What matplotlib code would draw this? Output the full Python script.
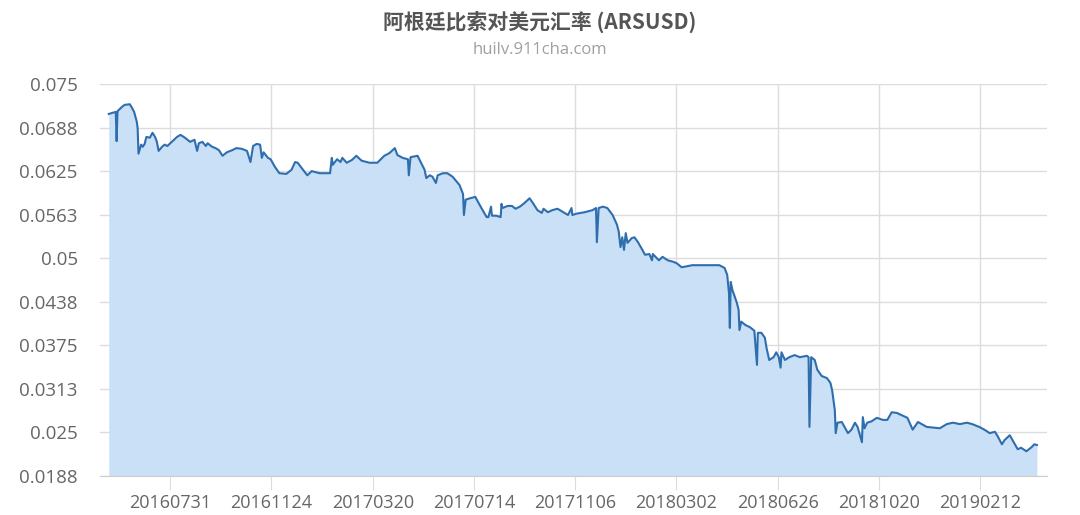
import datetime as dt

import matplotlib
matplotlib.use("Agg")
import matplotlib.pyplot as plt
import numpy as np

# ARS/USD daily rate (days counted from start_date)
start_date = dt.date(2016, 5, 22)
day = [0, 8, 9, 10, 15, 18, 24, 26, 29, 32, 33, 34, 37, 39, 41, 43, 47, 50, 53, 55,
       57, 61, 64, 67, 72, 78, 82, 87, 93, 98, 101, 103, 107, 111, 113, 118, 122, 126, 130, 135,
       141, 146, 152, 158, 162, 165, 169, 173, 175, 177, 182, 185, 190, 195, 203, 209, 213, 216, 222, 227,
       232, 241, 249, 253, 255, 256, 261, 265, 267, 272, 278, 283, 289, 298, 307, 315, 321, 327, 330, 336,
       342, 343, 345, 353, 357, 361, 363, 367, 370, 374, 376, 382, 387, 393, 401, 405, 406, 408, 413, 419,
       426, 432, 434, 437, 438, 443, 448, 449, 450, 456, 461, 465, 470, 475, 481, 485, 490, 495, 497, 502,
       507, 513, 521, 525, 529, 530, 535, 544, 553, 557, 558, 560, 565, 570, 576, 581, 583, 585, 587, 589,
       591, 593, 598, 601, 605, 610, 613, 618, 621, 622, 625, 629, 633, 639, 645, 649, 655, 667, 679, 698,
       704, 707, 709, 710, 711, 713, 715, 718, 720, 721, 723, 728, 733, 738, 741, 742, 746, 750, 752, 755,
       760, 763, 766, 768, 769, 773, 778, 784, 790, 798, 800, 801, 803, 807, 810, 815, 821, 825, 827, 830,
       831, 833, 838, 841, 845, 849, 853, 856, 861, 862, 864, 867, 872, 878, 885, 890, 895, 901, 906, 913,
       919, 925, 935, 950, 958, 965, 973, 981, 987, 995, 1001, 1007, 1013, 1016, 1021, 1024, 1030, 1035, 1039, 1043,
       1049, 1055, 1058, 1061]
rate = [0.0707, 0.0710, 0.0668, 0.0711, 0.0717, 0.0720, 0.0721, 0.0717, 0.0710, 0.0696, 0.0687, 0.0650, 0.0663, 0.0660, 0.0664, 0.0674, 0.0673, 0.0680, 0.0674, 0.0667,
        0.0654, 0.0660, 0.0663, 0.0661, 0.0667, 0.0674, 0.0677, 0.0673, 0.0667, 0.0670, 0.0654, 0.0665, 0.0667, 0.0661, 0.0665, 0.0660, 0.0658, 0.0655, 0.0647, 0.0652,
        0.0655, 0.0658, 0.0657, 0.0654, 0.0638, 0.0661, 0.0664, 0.0663, 0.0644, 0.0652, 0.0644, 0.0642, 0.0631, 0.0622, 0.0621, 0.0627, 0.0638, 0.0637, 0.0627, 0.0619,
        0.0625, 0.0622, 0.0622, 0.0622, 0.0644, 0.0634, 0.0642, 0.0638, 0.0644, 0.0637, 0.0641, 0.0647, 0.0640, 0.0637, 0.0637, 0.0647, 0.0651, 0.0658, 0.0648, 0.0644,
        0.0642, 0.0619, 0.0645, 0.0647, 0.0637, 0.0627, 0.0615, 0.0619, 0.0617, 0.0608, 0.0619, 0.0622, 0.0622, 0.0617, 0.0605, 0.0592, 0.0562, 0.0584, 0.0586, 0.0588,
        0.0572, 0.0559, 0.0559, 0.0574, 0.0561, 0.0561, 0.0559, 0.0578, 0.0572, 0.0575, 0.0575, 0.0571, 0.0574, 0.0579, 0.0586, 0.0579, 0.0569, 0.0565, 0.0571, 0.0566,
        0.0569, 0.0571, 0.0565, 0.0562, 0.0572, 0.0562, 0.0564, 0.0566, 0.0569, 0.0572, 0.0523, 0.0572, 0.0574, 0.0572, 0.0562, 0.0548, 0.0538, 0.0516, 0.0530, 0.0512,
        0.0536, 0.0522, 0.0529, 0.0530, 0.0523, 0.0512, 0.0505, 0.0506, 0.0497, 0.0506, 0.0502, 0.0497, 0.0502, 0.0497, 0.0495, 0.0493, 0.0487, 0.0490, 0.0490, 0.0490,
        0.0486, 0.0476, 0.0450, 0.0400, 0.0466, 0.0454, 0.0447, 0.0436, 0.0426, 0.0397, 0.0409, 0.0404, 0.0401, 0.0396, 0.0347, 0.0393, 0.0393, 0.0386, 0.0371, 0.0354,
        0.0358, 0.0365, 0.0358, 0.0343, 0.0365, 0.0354, 0.0358, 0.0361, 0.0358, 0.0360, 0.0358, 0.0258, 0.0358, 0.0354, 0.0340, 0.0331, 0.0328, 0.0321, 0.0310, 0.0282,
        0.0249, 0.0264, 0.0265, 0.0258, 0.0249, 0.0254, 0.0264, 0.0258, 0.0236, 0.0272, 0.0256, 0.0264, 0.0266, 0.0271, 0.0268, 0.0268, 0.0279, 0.0278, 0.0275, 0.0271,
        0.0254, 0.0265, 0.0258, 0.0256, 0.0262, 0.0264, 0.0262, 0.0264, 0.0262, 0.0258, 0.0254, 0.0249, 0.0251, 0.0245, 0.0233, 0.0239, 0.0246, 0.0235, 0.0226, 0.0228,
        0.0223, 0.0229, 0.0233, 0.0232]

y_ticks = [0.01875, 0.025, 0.03125, 0.0375, 0.04375, 0.05, 0.05625, 0.0625, 0.06875, 0.075]
y_labels = ["0.0188", "0.025", "0.0313", "0.0375", "0.0438", "0.05", "0.0563", "0.0625", "0.0688", "0.075"]
x_ticks = ["20160731", "20161124", "20170320", "20170714", "20171106",
           "20180302", "20180626", "20181020", "20190212"]

title = "阿根廷比索对美元汇率 (ARSUSD)"
subtitle = "huilv.911cha.com"

dates = [start_date + dt.timedelta(days=d) for d in day]
tick_dates = [dt.datetime.strptime(s, "%Y%m%d").date() for s in x_ticks]

fig = plt.figure(figsize=(10.8, 5.15), dpi=100)
ax = fig.add_axes([0.0926, 0.0757, 0.8764, 0.7612])

# area under the rate line
ax.fill_between(dates, rate, y_ticks[0], color="#c9e0f6", lw=0)
ax.plot(dates, rate, color="#2f6eae", lw=1.5)

ax.set_ylim(y_ticks[0], y_ticks[-1])
ax.set_xlim(start_date - dt.timedelta(days=10), dates[-1] + dt.timedelta(days=11))

ax.set_yticks(y_ticks)
ax.set_yticklabels(y_labels, fontsize=13.5, color="#666666", family="Open Sans")
ax.set_xticks(tick_dates)
ax.set_xticklabels(x_ticks, fontsize=13, color="#666666", family="Open Sans")

ax.grid(True, color="#dcdcdc", lw=1)
ax.set_axisbelow(True)
for side in ["top", "right", "left"]:
    ax.spines[side].set_visible(False)
ax.spines["bottom"].set_color("#cccccc")
ax.tick_params(axis="y", length=0, pad=16)
ax.tick_params(axis="x", length=10, color="#dcdcdc", pad=3)

fig.text(0.5, 0.957, title, ha="center", va="center", fontsize=15, fontweight="bold",
         color="#555555", family=["Noto Sans CJK SC", "DejaVu Sans"])
fig.text(0.5, 0.903, subtitle, ha="center", va="center", fontsize=12, color="#a0a0a0",
         family="Open Sans")

fig.savefig("out.png", dpi=100, facecolor="white")
